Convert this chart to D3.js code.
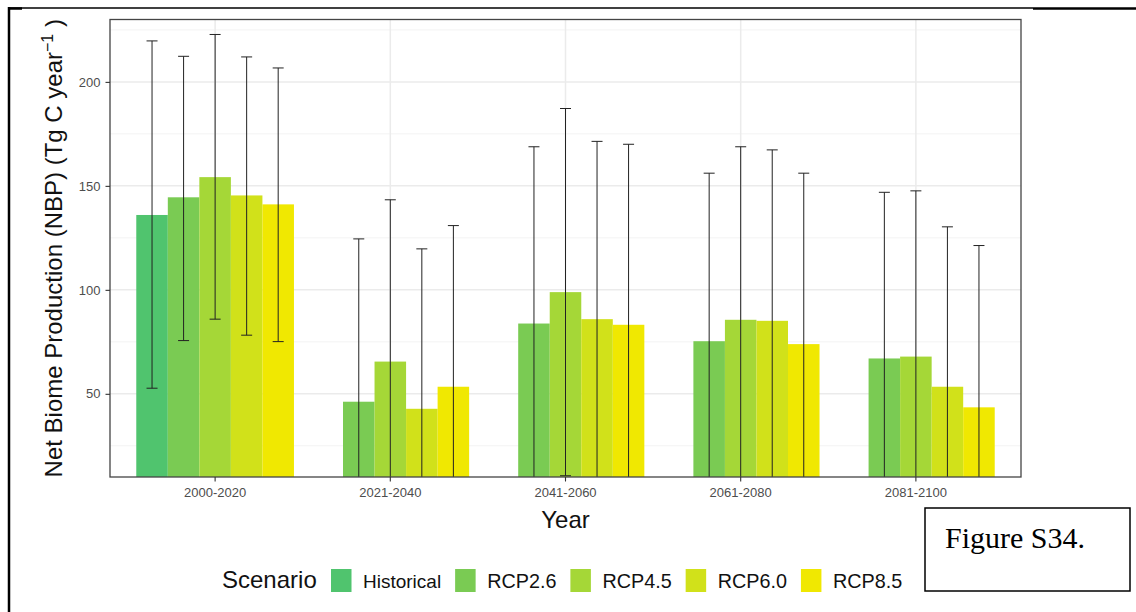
<!DOCTYPE html>
<html>
<head>
<meta charset="utf-8">
<script src="https://cdn.jsdelivr.net/npm/d3@7.9.0/dist/d3.min.js"></script>
<style>
  body { margin: 0; background: #fff; }
  svg { display: block; font-family: "Liberation Sans", Arial, sans-serif; }
</style>
</head>
<body>
<svg id="chart" width="1136" height="612"></svg>
<script>
// Data
const periods = ["2000-2020", "2021-2040", "2041-2060", "2061-2080", "2081-2100"];
const scenarios = ["Historical", "RCP2.6", "RCP4.5", "RCP6.0", "RCP8.5"];
const colors = ["#50c46e", "#7acb53", "#a5d737", "#d1e11a", "#f0e801"];

// mean NBP per period (null = no bar)
const historical = [136, null, null, null, null];
const rcp26 = [144.5, 46.2, 83.8, 75.3, 67];
const rcp45 = [154.2, 65.5, 98.9, 85.6, 67.9];
const rcp60 = [145.4, 42.8, 85.9, 85.1, 53.4];
const rcp85 = [141.1, 53.4, 83.2, 73.9, 43.5];

// error bar upper / lower ends
const historicalHi = [219.7, null, null, null, null];
const historicalLo = [52.7, null, null, null, null];
const rcp26Hi = [212.3, 124.5, 168.8, 156.1, 146.9];
const rcp26Lo = [75.6, -32, -1, -6, -13];
const rcp45Hi = [222.8, 143.3, 187.2, 168.8, 147.6];
const rcp45Lo = [85.9, -12, 10.6, 2, -12];
const rcp60Hi = [212, 119.7, 171.4, 167.3, 130.3];
const rcp60Lo = [78.2, -34, 0, 3, -24];
const rcp85Hi = [206.7, 130.9, 170, 156.1, 121.3];
const rcp85Lo = [75.1, -24, -4, -8, -34];

const yTicks = [50, 100, 150, 200];
const yMinor = [25, 75, 125, 175, 225];

// Build long table
const means = [historical, rcp26, rcp45, rcp60, rcp85];
const his = [historicalHi, rcp26Hi, rcp45Hi, rcp60Hi, rcp85Hi];
const los = [historicalLo, rcp26Lo, rcp45Lo, rcp60Lo, rcp85Lo];
const rows = [];
scenarios.forEach((s, si) => {
  periods.forEach((p, pi) => {
    if (means[si][pi] === null) return;
    rows.push({ period: p, scenario: s, value: means[si][pi], hi: his[si][pi], lo: los[si][pi] });
  });
});

const svg = d3.select("#chart");
const panel = { left: 110, right: 1021, top: 19.5, bottom: 477 };

// Scales
const x = d3.scaleBand()
  .domain(periods)
  .range([panel.left, panel.right])
  .paddingInner(0.1)
  .paddingOuter(0.15);
const xInner = d3.scaleBand().domain(scenarios).range([0, x.bandwidth()]);
const y = d3.scaleLinear().domain([10, 230]).range([panel.bottom, panel.top]);
const color = d3.scaleOrdinal().domain(scenarios).range(colors);

// Page border lines
svg.append("line").attr("x1", 9).attr("x2", 9).attr("y1", 7).attr("y2", 612)
  .attr("stroke", "#000").attr("stroke-width", 2.5);
svg.append("line").attr("x1", 9).attr("x2", 1033).attr("y1", 8).attr("y2", 8)
  .attr("stroke", "#000").attr("stroke-width", 1.3);
svg.append("line").attr("x1", 1033).attr("x2", 1136).attr("y1", 8.5).attr("y2", 8.5)
  .attr("stroke", "#000").attr("stroke-width", 2.5);
svg.append("line").attr("x1", 8).attr("x2", 22).attr("y1", 8.5).attr("y2", 8.5)
  .attr("stroke", "#000").attr("stroke-width", 2.5);

// Grid
const grid = svg.append("g");
grid.selectAll(".minor").data(yMinor).join("line")
  .attr("x1", panel.left).attr("x2", panel.right)
  .attr("y1", (d) => y(d)).attr("y2", (d) => y(d))
  .attr("stroke", "#f3f3f3").attr("stroke-width", 1);
grid.selectAll(".major").data(yTicks).join("line")
  .attr("x1", panel.left).attr("x2", panel.right)
  .attr("y1", (d) => y(d)).attr("y2", (d) => y(d))
  .attr("stroke", "#ebebeb").attr("stroke-width", 1.5);
grid.selectAll(".vmajor").data(periods).join("line")
  .attr("x1", (d) => x(d) + x.bandwidth() / 2).attr("x2", (d) => x(d) + x.bandwidth() / 2)
  .attr("y1", panel.top).attr("y2", panel.bottom)
  .attr("stroke", "#ebebeb").attr("stroke-width", 1.5);

// Clip to panel
svg.append("clipPath").attr("id", "clip")
  .append("rect")
  .attr("x", panel.left).attr("y", panel.top)
  .attr("width", panel.right - panel.left).attr("height", panel.bottom - panel.top);

const plot = svg.append("g").attr("clip-path", "url(#clip)");

// Bars
plot.selectAll("rect.bar").data(rows).join("rect")
  .attr("class", "bar")
  .attr("x", (d) => x(d.period) + xInner(d.scenario))
  .attr("width", xInner.bandwidth())
  .attr("y", (d) => y(d.value))
  .attr("height", (d) => y(0) - y(d.value))
  .attr("fill", (d) => color(d.scenario));

// Error bars
const capW = 11;
const eb = plot.selectAll("g.err").data(rows).join("g").attr("class", "err")
  .attr("stroke", "#222").attr("stroke-width", 1);
const cx = (d) => x(d.period) + xInner(d.scenario) + xInner.bandwidth() / 2;
eb.append("line")
  .attr("x1", cx).attr("x2", cx)
  .attr("y1", (d) => y(d.hi)).attr("y2", (d) => y(d.lo));
eb.append("line")
  .attr("x1", (d) => cx(d) - capW / 2).attr("x2", (d) => cx(d) + capW / 2)
  .attr("y1", (d) => y(d.hi)).attr("y2", (d) => y(d.hi));
eb.append("line")
  .attr("x1", (d) => cx(d) - capW / 2).attr("x2", (d) => cx(d) + capW / 2)
  .attr("y1", (d) => y(d.lo)).attr("y2", (d) => y(d.lo));

// Panel border
svg.append("rect")
  .attr("x", panel.left).attr("y", panel.top)
  .attr("width", panel.right - panel.left).attr("height", panel.bottom - panel.top)
  .attr("fill", "none").attr("stroke", "#444").attr("stroke-width", 1.3);

// Axes
const xAxis = svg.append("g")
  .attr("transform", `translate(0,${panel.bottom})`)
  .call(d3.axisBottom(x).tickSize(4.5).tickSizeOuter(0).tickPadding(6));
const yAxis = svg.append("g")
  .attr("transform", `translate(${panel.left},0)`)
  .call(d3.axisLeft(y).tickValues(yTicks).tickSize(4.5).tickSizeOuter(0).tickPadding(5));
[xAxis, yAxis].forEach((a) => {
  a.select(".domain").remove();
  a.selectAll(".tick line").attr("stroke", "#333").attr("stroke-width", 1.1);
  a.selectAll(".tick text")
    .attr("fill", "#4d4d4d")
    .style("font-size", "13px")
    .style("font-family", "'Liberation Sans', Arial, sans-serif");
});

// Axis titles
svg.append("text")
  .attr("x", (panel.left + panel.right) / 2).attr("y", 528)
  .attr("text-anchor", "middle")
  .style("font-size", "24px").attr("fill", "#111")
  .text("Year");

const yTitle = svg.append("text")
  .attr("transform", `translate(62,${(panel.top + panel.bottom) / 2}) rotate(-90)`)
  .attr("text-anchor", "middle")
  .style("font-size", "24px").attr("fill", "#111");
yTitle.append("tspan").text("Net Biome Production (NBP) (Tg C year");
yTitle.append("tspan").attr("dy", -9).style("font-size", "16px").text("\u22121");
yTitle.append("tspan").attr("dy", 9).text(" )");

// Legend
const legend = svg.append("g");
legend.append("text")
  .attr("x", 222).attr("y", 588)
  .style("font-size", "24px").attr("fill", "#111")
  .text("Scenario");
let cursor = 331;
scenarios.forEach((s) => {
  legend.append("rect")
    .attr("x", cursor).attr("y", 569)
    .attr("width", 20.5).attr("height", 23)
    .attr("fill", color(s));
  const t = legend.append("text")
    .attr("x", cursor + 32).attr("y", 588)
    .style("font-size", s === "Historical" ? "19px" : "19.8px").attr("fill", "#111")
    .text(s);
  cursor += 32 + t.node().getComputedTextLength() + 14;
});

// Figure label box
svg.append("rect")
  .attr("x", 925).attr("y", 508).attr("width", 205).attr("height", 83)
  .attr("fill", "#fff").attr("stroke", "#000").attr("stroke-width", 1.5);
svg.append("text")
  .attr("x", 945).attr("y", 548)
  .style("font-family", "'Liberation Serif', 'Times New Roman', serif")
  .style("font-size", "30px").attr("fill", "#000")
  .text("Figure S34.");
</script>
</body>
</html>
